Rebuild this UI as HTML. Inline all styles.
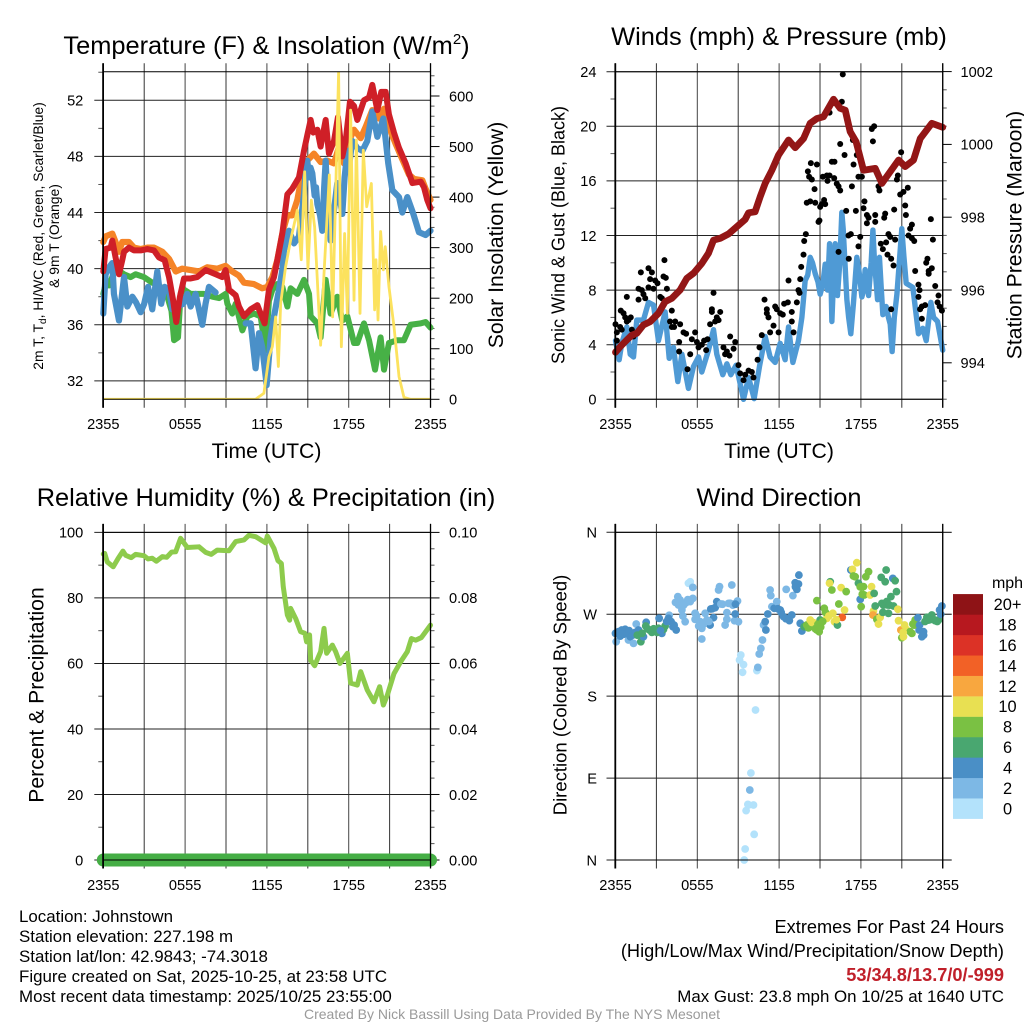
<!DOCTYPE html>
<html lang="en">
<head>
<meta charset="utf-8">
<title>Johnstown Station Meteogram</title>
<style>
html,body{margin:0;padding:0;background:#fff;width:1024px;height:1024px;overflow:hidden}
svg{display:block;font-family:"Liberation Sans",Arial,sans-serif;fill:#000}
text{fill:#000}
.title{font-size:25.4px;text-anchor:middle}
.axis-title{font-size:21.2px;text-anchor:middle}
.foot{font-size:16.9px}
.footr{font-size:18.2px;text-anchor:end}
.footm{font-size:16.9px;text-anchor:end}
</style>
</head>
<body>
<svg id="fig" xmlns="http://www.w3.org/2000/svg" width="1024" height="1024" viewBox="0 0 1024 1024">
<defs>
<clipPath id="clipT"><rect x="103" y="71.7" width="327.5" height="328"/></clipPath>
</defs>
<g id="layer"></g>

<text class="title" x="266.5" y="54">Temperature (F) &amp; Insolation (W/m<tspan dy="-10" font-size="15">2</tspan><tspan dy="10">)</tspan></text>
<text class="title" x="779" y="45">Winds (mph) &amp; Pressure (mb)</text>
<text class="title" x="266" y="506">Relative Humidity (%) &amp; Precipitation (in)</text>
<text class="title" x="779" y="506">Wind Direction</text>

<text class="axis-title" x="266.5" y="458">Time (UTC)</text>
<text class="axis-title" x="779" y="458">Time (UTC)</text>

<text transform="translate(43,236) rotate(-90)" text-anchor="middle" font-size="13.9">2m T, T<tspan dy="3" font-size="10">d</tspan><tspan dy="-3">, HI/WC (Red, Green, Scarlet/Blue)</tspan></text>
<text transform="translate(59,236) rotate(-90)" text-anchor="middle" font-size="13.9">&amp; 9m T (Orange)</text>
<text class="axis-title" transform="translate(503,235) rotate(-90)">Solar Insolation (Yellow)</text>
<text transform="translate(564.5,235) rotate(-90)" text-anchor="middle" font-size="18">Sonic Wind &amp; Gust (Blue, Black)</text>
<text class="axis-title" transform="translate(1021.5,235) rotate(-90)">Station Pressure (Maroon)</text>
<text class="axis-title" transform="translate(43.5,695) rotate(-90)">Percent &amp; Precipitation</text>
<text transform="translate(566.5,695) rotate(-90)" text-anchor="middle" font-size="18.5">Direction (Colored By Speed)</text>

<text x="1007.5" y="588" text-anchor="middle" font-size="16">mph</text>

<text class="foot" x="19" y="922">Location: Johnstown</text>
<text class="foot" x="19" y="942">Station elevation: 227.198 m</text>
<text class="foot" x="19" y="962">Station lat/lon: 42.9843; -74.3018</text>
<text class="foot" x="19" y="982">Figure created on Sat, 2025-10-25, at 23:58 UTC</text>
<text class="foot" x="19" y="1002">Most recent data timestamp: 2025/10/25 23:55:00</text>

<text class="footr" x="1004" y="933">Extremes For Past 24 Hours</text>
<text class="footr" x="1004" y="957">(High/Low/Max Wind/Precipitation/Snow Depth)</text>
<text class="footr" x="1004" y="981" font-weight="bold" style="fill:#c0202a">53/34.8/13.7/0/-999</text>
<text class="footm" x="1004" y="1002">Max Gust: 23.8 mph On 10/25 at 1640 UTC</text>
<text x="512" y="1019" text-anchor="middle" font-size="14" style="fill:#9a9a9a">Created By Nick Bassill Using Data Provided By The NYS Mesonet</text>
</svg>

<script>
// ---- Tick labels ----
const timeTickLabels = ["2355","0555","1155","1755","2355"];
const tempTicks = [32,36,40,44,48,52];
const solarTicks = [0,100,200,300,400,500,600];
const windTicks = [0,4,8,12,16,20,24];
const pressureTicks = [994,996,998,1000,1002];
const rhTicks = [0,20,40,60,80,100];
const precipTicks = ["0.00","0.02","0.04","0.06","0.08","0.10"];
const dirTickLabels = ["N","E","S","W","N"];
const legendLabels = ["0","2","4","6","8","10","12","14","16","18","20+"];
const legendColors = ["#B3E2FB","#7DB8E5","#4A8FC6","#49A770","#7AC143","#E8E052","#F8A73F","#F26126","#DC3226","#B7181F","#8E1316"];

// ---- Temperature panel series (hours since start, deg F) ----
const redHours = [0,.17,.54,.66,.9,1.15,1.39,1.52,1.88,2.25,2.74,3.23,3.72,4.08,4.5,4.82,5.13,5.35,5.62,5.92,6.41,6.89,7.51,8.24,8.73,8.97,9.22,9.71,9.95,10.32,10.81,11.3,11.54,11.83,12.15,12.52,12.76,13.13,13.5,13.86,14.35,14.72,14.96,15.21,15.4,15.7,15.94,16.31,16.55,16.92,17.21,17.53,17.78,18.09,18.39,18.63,19.12,19.49,19.73,20.1,20.39,20.71,20.95,21.32,21.69,22.18,22.67,23.28,23.52,23.76,24];
const redTemp = [39.8,41.4,41.5,42,40.8,39.6,40.6,41.2,41.5,41.3,41.3,41.4,41.3,40.8,40.6,39.4,37.7,36.2,38,39.3,39.3,39.4,39.9,39.6,39.4,39.9,38.5,38.1,37.3,36.6,37.1,37.4,36.8,36.1,38.5,39.4,40.6,42.5,45.3,45.7,46.5,48.4,49.5,50.6,49.7,49.9,48.7,50.6,48.2,49.1,50.8,48,49.1,51.9,51.6,50.6,52,52.2,53.1,51.3,52.6,52.6,51,49.7,48.6,47.5,46.1,46.2,45.8,44.9,44.3];
const orangeHours = [0,.17,.66,.9,1.15,1.39,1.88,2.25,2.74,3.23,3.72,4.33,4.82,5.31,5.79,6.41,7.02,7.63,8.36,8.97,9.46,9.95,10.32,11.05,11.66,12.03,12.4,12.76,13.13,13.5,13.86,14.23,14.6,14.96,15.45,15.94,16.43,16.92,17.29,17.65,18.02,18.39,18.88,19.24,19.73,20.22,20.59,20.95,21.44,21.93,22.42,22.79,23.4,23.64,24];
const orangeTemp = [41.9,42.3,42.5,41.9,41.2,41.9,41.9,41.5,41.4,41.5,41.5,41.2,40.7,39.8,40,39.9,39.8,40.1,40,40.2,39.8,39.5,39,38.9,38.6,38.7,39.4,40.6,42.5,43.8,43.8,44.9,46.8,47.7,48.2,47.6,47.7,47.5,48.7,47.5,49.1,49.9,49.3,50.1,51.3,50.7,51.4,50.1,48.9,47.8,46.7,46.4,46.3,45.7,44.9];
const greenHours = [0,.17,.42,.9,1.52,2,2.37,2.98,3.6,4.2,4.7,5,5.19,5.48,5.67,5.92,6.41,7.39,8,8.49,8.97,9.1,9.46,9.71,10.2,10.56,11.05,11.54,11.9,12.15,12.4,12.76,13.13,13.5,13.74,14.23,14.72,15.09,15.21,15.7,15.94,16.31,16.67,17.16,17.53,17.9,18.39,18.63,19.12,19.49,19.93,20.34,20.59,20.95,21.56,22.05,22.54,23.28,23.64,24];
const greenTemp = [38.2,38.9,38.8,40,39.6,39.4,39.6,39.4,39,38.7,38,37,34.9,35.1,38.2,38.5,38.2,38.2,38,37.9,38.2,37.5,36.8,37.5,35.6,36.6,36.8,36.6,34.2,37.7,38.5,38.9,38.7,37.3,38.6,38.2,39.2,38.2,36.6,36.1,35.1,39.2,36.8,38,36.3,36.6,34.7,34.7,36.1,34.9,32.8,35.1,32.8,34.7,34.9,34.9,36,36.1,36.2,35.8];
const blueHours = [0,.17,.42,.66,.78,1.15,1.52,1.76,2.13,2.4,2.74,3.0,3.28,3.59,3.96,4.25,4.5,4.82,5.06,5.87,6.16,6.41,6.77,7.26,7.5,7.75,8.24,8.3,10.44,10.81,11.17,11.42,11.66,11.98,12.27,12.52,12.89,13.13,13.25,13.62,13.99,14.35,14.72,14.85,14.96,15.1,15.2,15.33,15.5,15.6,15.7,15.9,16.06,16.2,16.31,16.45,16.67,16.9,17.16,17.35,17.53,17.7,17.9,18.05,18.26,18.63,19,19.36,19.73,20.1,20.54,20.9,21.2,21.69,21.93,22.3,22.74,23.15,23.64,24];
const blueTemp = [36.8,39.6,40.1,40.4,38.2,36.3,39.4,37.3,38,37.6,36.9,37.5,38.7,37.1,39.8,37.5,38.7,38.5,37.1,37.5,38.2,37.3,38.2,36,37.5,38.7,38.3,null,36.1,36.1,32.9,35.4,34.4,31.7,35.1,36.6,38.5,39.9,41.3,42.7,41.8,42.3,45.3,47,47.7,46.5,47.2,46.8,45.2,45.8,44.6,43.8,42.7,45.8,47.7,44.5,42,44,46.1,45,43.9,46.5,48.4,47.5,49.1,48.6,48.4,49.1,51.2,49.4,50.7,47.5,45.6,45.1,44,45.1,43.9,42.6,42.4,42.7];
const solarHours = [0,11.17,11.42,11.78,12.15,12.4,12.64,12.84,13.01,13.37,13.74,14.23,14.52,14.77,15.01,15.26,15.5,15.94,16.19,16.58,16.82,17.26,17.46,17.7,17.9,18.14,18.39,18.56,18.83,19.07,19.32,19.66,19.9,20,20.15,20.34,20.54,20.68,20.95,21.32,21.69,22.05,22.54,24];
const solarWatts = [0,0,5,12,84,104,163,65,190,262,315,374,276,450,259,394,341,107,249,444,163,648,104,328,170,572,196,513,170,493,381,427,177,276,157,332,256,302,223,144,45,4,0,0];

// ---- Wind panel series ----
const windHours = [0,.27,.46,.83,1.08,1.32,1.56,2.05,2.42,2.79,3.15,3.64,3.94,4.25,4.57,4.87,5.35,5.72,6.09,6.33,6.82,7.19,7.43,7.87,8.17,8.46,8.85,9.39,9.76,10.17,10.56,10.98,11.34,11.71,12.08,12.44,12.69,13.01,13.42,13.67,13.91,14.1,14.28,14.45,14.65,14.85,15.01,15.2,15.38,15.55,15.7,15.78,15.87,16,16.11,16.2,16.28,16.45,16.6,16.7,16.97,17.1,17.26,17.45,17.7,17.85,18.07,18.2,18.31,18.45,18.56,18.75,18.88,19,19.22,19.36,19.5,19.61,19.85,20.02,20.15,20.29,20.45,20.64,20.85,21,21.15,21.32,21.81,22.22,22.54,22.79,23.13,23.33,23.62,24];
const windMph = [4.3,2.9,4.1,5.3,3.3,3.1,5.8,5.8,7.1,6.9,4.3,6.4,3,3.8,1.3,3.3,.8,2.4,3.1,2,3.6,5.1,3.3,1.8,2.6,1.8,2.5,0,1.6,.05,2.4,4.6,3.1,2.7,4.1,2.9,5.3,2.7,4.3,6,8.7,9.1,10.4,10,9.2,8.6,7.7,8.4,9.9,8,11.4,10,5.7,9,11.4,10.6,7.6,10,13.7,12.5,7.3,6,4.8,7,10.4,9.5,7.5,8,9.5,8.8,7.6,10,12.4,10,7.3,10.4,8,6.2,6.8,6,5.5,3.5,6,7.7,10.5,12.5,10.5,8.5,8.2,4.8,5.2,4.3,7.1,6,5.7,3.6];
const gustHours = [0,.1,.1,.34,.46,.39,.59,.71,.95,.83,1.12,.83,1.2,1.32,
1.69,1.69,1.86,1.93,2.05,2.18,2.42,2.67,2.54,2.42,2.79,2.91,3.08,3.28,3.4,3.52,3.69,3.59,3.77,
4.13,4,4.13,4.38,4.3,4.74,4.99,5.18,4.67,4.67,5.48,5.28,5.6,5.84,5.97,6.09,6.33,6.5,6.75,6.65,6.94,7.07,7.07,7.19,7.31,7.43,7.56,7.68,
7.92,8.04,8.17,8.36,8.41,8.78,8.66,9.02,9.14,9.39,9.51,9.76,10,10.12,10.42,10.56,10.73,10.93,11.1,11.1,11.22,11.71,11.83,11.59,11.34,11.96,12.08,12.27,12.37,12.69,12.64,12.93,13.06,12.93,13.3,13.55,13.42,13.5,13.62,13.79,13.84,13.96,
14.03,14.28,14.11,14.2,14.4,14.6,14.33,14.77,14.65,15.01,15.13,15.3,15.38,14.89,14.96,15.21,15.5,15.7,15.55,15.87,16.06,16.04,16.23,16.36,16.48,
16.6,16.67,15.7,16.48,16.8,17.41,17.7,17.46,17.82,18.07,17.34,16.92,17.63,17.09,17.26,17.82,17.95,17.11,16.36,18.26,18.19,18.44,18.56,18.44,19.05,19.05,18.8,18.97,18.88,19.29,19.36,19.78,19.71,19.46,19.61,19.85,20.02,20.15,19.95,20.22,20.39,20.51,20.44,20.22,
20.95,20.71,20.64,20.88,21.12,21.44,21.25,21.3,21.74,21.61,21.49,21.74,21.91,21.98,22.22,22.3,22.22,22.47,22.71,22.34,22.47,23.13,23.28,22.88,22.79,22.97,23.2,22.97,23.45,23.69,23.62,23.77,23.94];
const gustMph = [5.5,4.9,4.3,5.3,5.1,6.5,6.3,6,5.8,5.7,6,7.5,5.1,4.6,
8.1,7.3,9.3,8,7.7,7.4,9.6,9.3,8.8,8.2,8.1,8.7,8.5,7.5,7.4,9,8.9,10.2,8.1,
6.5,5.7,5.3,5.7,5.3,5.5,4.9,4.8,4.2,3.5,3.3,2.2,4.4,4.9,4.2,3.8,4,4.3,4.4,3.6,5.5,6.6,6.4,7.8,5.7,6,5.8,6.4,
3.8,3.3,3.5,3.2,4.6,4.2,3.7,2.5,1.9,1.4,1.8,2.1,2,1.6,2.9,3.8,4.7,7.3,6.6,6.3,6,6.8,6.6,5.4,4.9,4.9,6.3,6.2,7,8.7,7.1,5.7,4.9,6.4,7.1,8.8,8,7.8,9.7,10.6,11.6,12.1,
14.4,14.5,16.7,16.3,16.1,15.4,17.3,17.2,14.4,14.1,14.3,14.6,14.3,13,13.1,16.3,16.4,16.4,16,17.4,17.4,16.2,15.8,15.6,15.3,
21.8,23.8,21,18.7,17.9,19,17.9,17.2,16.3,16.3,15.6,13.8,13.8,12,12.1,11.2,11.9,10.3,10.8,14.5,14,13.5,13.3,12.9,13.5,13,19.8,20,18.9,15.6,15.3,13.6,13.3,11.4,11,11.5,12.1,11.9,10.6,10.3,9.8,11.7,13.9,6.6,
18.1,16.4,16.1,15,15.2,15.5,14.2,13.5,12.8,12.5,12,11.8,11.6,9.4,8.4,8,7.5,6.8,6.9,6.6,5.9,13.2,11.7,10.3,10,9.4,9.6,9.2,8.3,7.6,7.1,6.8,6.5];
const pressureHours = [0,.34,.95,1.2,1.56,2.05,2.54,3.15,3.64,4.13,4.74,5.23,5.72,6.33,6.82,7.19,7.68,8.29,8.9,9.51,9.76,10.24,10.61,10.98,11.47,11.96,12.69,13.18,13.79,14.28,14.77,15.26,15.99,16.48,16.85,17.21,17.65,18.19,19.05,19.54,20.15,20.76,21.25,21.86,22.35,23.2,24];
const pressureMb = [994.29,994.44,994.67,994.76,994.81,995.04,995.13,995.36,995.68,995.77,996,996.32,996.46,996.73,997.01,997.37,997.42,997.54,997.74,997.94,998.12,998.15,998.56,998.93,999.29,999.71,1000.12,999.91,1000.16,1000.58,1000.71,1000.76,1001.24,1000.99,1000.94,1000.35,1000.07,999.29,999.34,998.93,999.25,999.57,999.39,999.57,1000.16,1000.58,1000.47];

// ---- Humidity panel series ----
const rhHours = [0,.1,.29,.73,1.08,1.44,1.64,2.05,2.37,2.98,3.28,3.59,3.89,4.33,4.65,5.01,5.31,5.67,6.16,7.02,7.51,7.92,8.36,9.22,9.71,10.32,10.68,11.17,11.91,12.03,12.52,12.81,13.06,13.2,13.5,13.67,13.74,14.11,14.47,14.79,14.91,15.13,15.21,15.5,15.94,16.19,16.38,16.8,17.04,17.36,17.9,18.14,18.63,18.88,19.36,19.85,20.27,20.54,20.83,21.32,21.81,22.3,22.6,22.91,23.33,24];
const rhPercent = [93.4,93.6,91,89.5,92,94.3,93,92.3,93.3,92.9,91.9,92.1,91.2,92.6,92.4,94,94.1,98.2,95.4,95.6,93.9,93.3,94.6,94.4,97.2,97.7,99.1,98.7,96.8,98.9,95.1,91.4,90.5,83.4,74.8,73.2,76.8,73.7,69.7,69.2,66.6,68.7,61,59.3,63.6,70.7,63.1,65.6,63.6,60,63.1,54,53.4,57.5,51.9,48.3,52.9,47.3,50.3,56.9,60.5,63.6,67.6,67.1,67.9,71.7];
const precipHours = [0,24];
const precipInches = [0,0];

// ---- Wind direction panel series (hours, degrees, mph) ----
const dirHours = [0,.05,.22,.46,.71,.95,1.08,1.32,1.52,1.69,1.86,1.81,2.05,2.25,2.22,2.49,2.67,2.91,3.15,3.2,3.4,3.64,3.52,3.94,3.89,4.08,4.21,4.45,4.57,4.74,4.62,4.87,4.94,5.11,5.18,5.35,5.48,5.67,5.67,5.48,5.84,5.84,6.21,6.33,6.33,6.58,6.7,6.94,7.19,6.99,7.31,7.43,7.63,7.56,7.73,8.04,8.17,8.17,8.29,8.53,8.66,8.73,8.78,8.95,9.02,
9.19,9.1,9.39,9.32,9.44,9.51,9.58,9.71,9.76,9.85,9.93,10.12,10.17,10.27,10.37,10.44,10.54,10.66,10.78,10.86,11.03,10.98,11.17,11.34,11.39,11.47,11.64,11.83,12.08,12.32,12.52,12.69,12.93,13.01,13.18,13.3,13.42,13.45,13.55,13.67,
13.84,14.03,14.28,14.52,14.77,14.77,14.94,15.01,15.31,15.5,15.75,15.7,15.87,15.94,16.06,16.28,16.38,16.55,16.63,16.8,16.92,17.26,17.38,17.58,17.7,17.82,17.95,18.02,18.19,18.24,18.36,18.56,18.68,18.78,18.97,18.92,18.88,19.05,19.17,19.29,19.41,19.54,19.49,19.61,19.78,19.85,19.95,20.02,20.2,20.34,20.51,20.39,20.61,20.71,20.76,
21,21.12,20.93,21.2,21.32,21.61,21.74,21.81,21.98,22.18,22.27,22.47,22.59,22.84,22.96,23.2,23.45,23.69,23.77,23.94,
.35,.6,.85,1,1.25,1.45,1.6,1.95,2.35,2.8,3.05,3.3,3.75,4.3,5,4.4,5.3,5.95,6.1,6.45,6.85,7.1,7.85,8.4,8.6,8.8,
11.9,12.15,12.5,12.75,13.2,14.15,14.4,14.65,14.85,15.05,15.2,15.4,15.65,16.2,17.45,17.95,18.1,19.65,19.9,20.1,21.1,21.9,22.6,22.3,22.7,23.05,23.35,23.6,23.85];
const dirDegrees = [249,239.8,250.8,252.7,253.4,241.7,245.3,238,259.2,252.7,239.8,247.2,245.3,261.1,257,252.7,250.1,252.7,254.5,265.5,249,257,253.4,268.8,265.5,261.8,256.3,252.7,289.3,285.6,280.1,274.6,268,261.8,282.7,304,305.7,299.5,287.4,283.8,271,264.4,261.8,254.5,242.8,271,263.6,258.1,266.2,275.7,277.2,283.8,300.3,296.6,281.2,258.1,264.4,271.7,281.9,302.1,281.2,262.9,270.2,284.5,261.8,
225.2,219.7,214.6,206.2,0,12.1,54.2,61.1,60.4,76.9,95.6,60.4,28.2,164.8,208,211.6,226.3,232.5,241.7,258.1,252.7,261.8,270.2,296.6,290.4,278.3,276.5,283.8,274.6,267.3,297.3,265.5,269.1,290.4,304.6,297.3,303.2,313,260,251.6,
256.3,258.1,263.6,260.7,284.9,252.7,250.8,263.6,276.5,265.5,305.7,304,296.6,271,261.8,258.1,281.2,299.2,266.6,274.6,294.8,318.6,319.3,311.2,326.6,304,286.3,278.3,300.3,291.1,311.2,316.7,291.1,300.3,292.9,273.5,269.1,279,264.4,259.2,266.6,281.9,310.5,272,305.7,318.6,280.1,271,289.3,309.4,306.8,279,294.8,275.4,262.9,
244.2,245.3,252.7,258.1,253.4,250.8,249,259.2,263.6,266.2,252.7,245.3,250.8,266.6,263.6,269.1,262.9,263.6,274.6,279,
246,248,249,252,247,250,247,249,254,254,250,252,262,258,280,283,286,268,257,259,262,276,281,282,280,281,
276,272,265,263,300,255,261,254,259,256,262,272,268,264,312,300,292,280,284,280,250,258,247,258,262,264,264,262,270];
const dirSpeeds = [4,2,4,4,4,2,4,2,2,4,6,6,4,4,6,6,6,6,6,4,4,6,6,2,4,4,4,4,2,2,2,2,2,2,2,0,0,2,2,2,2,2,2,2,2,2,2,4,4,4,4,4,2,2,2,2,2,2,2,2,2,2,4,2,2,
0,0,0,0,0,0,0,0,0,2,0,0,0,0,0,2,2,2,2,2,4,4,4,2,2,2,4,2,4,4,2,4,4,2,4,4,4,4,4,4,
6,8,10,10,8,8,8,6,8,10,6,10,8,10,10,6,8,10,14,10,8,4,10,8,10,6,4,8,8,8,8,8,10,10,6,10,12,6,8,10,10,6,6,6,6,6,6,6,6,4,6,6,6,10,10,
8,10,12,10,10,8,8,8,8,4,4,4,4,6,6,6,6,6,4,4,
4,4,4,4,4,4,6,6,6,6,6,4,4,4,2,2,2,2,2,2,2,4,2,2,2,4,
4,4,4,4,4,8,10,8,8,8,8,8,10,10,8,8,8,6,6,6,10,8,4,4,6,6,6,6,4];

// ---- Layout constants and axis functions ----
const NS = 'http://www.w3.org/2000/svg';
const layer = document.getElementById('layer');
const panelLeftA = 103.3, panelLeftB = 615.5, hourWidth = 13.634;
const topRow = {top:71.7, bottom:399.3}, lowRow = {top:532.4, bottom:860};
const xA = h => panelLeftA + h * hourWidth;
const xB = h => panelLeftB + h * hourWidth;
const yTemp = v => 380.9 - (v - 32) * 14.03;
const ySolar = w => 399.3 - w * 0.5055;
const yWind = v => 399.3 - v * 13.65;
const yPress = p => 144.4 - (p - 1000) * 36.4;
const yRH = v => 860 - v * 3.276;
const yPrecip = p => 860 - p * 3276;
const yDir = d => 860 - d * 0.9103;

function mk(tag, parent, attrs){
  const el = document.createElementNS(NS, tag);
  for (const k in attrs) el.setAttribute(k, attrs[k]);
  parent.appendChild(el);
  return el;
}
function seg(parent, x1, y1, x2, y2, w, c){
  return mk('line', parent, {x1, y1, x2, y2, stroke:c || '#000', 'stroke-width':w || 1});
}
function lbl(parent, x, y, str, anchor, size){
  const t = mk('text', parent, {x, y, 'text-anchor':anchor, 'font-size':size || 14.6});
  t.textContent = str;
  return t;
}
function seriesPath(xs, ys, xf, yf, color, width, parent, clip){
  let d = '', pen = false;
  for (let i = 0; i < xs.length; i++){
    if (ys[i] === null){ pen = false; continue; }
    d += (pen ? 'L' : 'M') + xf(xs[i]).toFixed(2) + ' ' + yf(ys[i]).toFixed(2);
    pen = true;
  }
  const p = mk('path', parent, {d, fill:'none', stroke:color, 'stroke-width':width, 'stroke-linejoin':'round', 'stroke-linecap':'round'});
  if (clip) p.setAttribute('clip-path', 'url(#' + clip + ')');
  return p;
}

function drawFrame(g, xf, row, hasGridTicks, tickY){
  const x0 = xf(0), x1 = xf(24);
  // vertical gridlines every three hours, with outward tick stubs
  for (let i = 0; i <= 8; i++){
    const x = xf(i * 3);
    const v = seg(g, x, row.top - 8.5, x, row.bottom + 8.5, 1, i % 2 ? '#333' : '#444');
    
    
  }
  // horizontal gridlines for the primary axis
  hasGridTicks.forEach(y => {
    const h = seg(g, x0 - 9, y, x1, y, 1, '#222');
    
    
  });
  // time labels
  timeTickLabels.forEach((s, i) => {
    const t = lbl(g, xf(i * 6), tickY, s, 'middle');
    
    
  });
}
function drawBorder(g, xf, row){
  const x0 = xf(0), x1 = xf(24);
  const l = seg(g, x0 - 0.2, row.top - 8.5, x0 - 0.2, row.bottom + 8.5, 1.8);
  
  
  const r = seg(g, x1, row.top - 8.5, x1, row.bottom + 8.5, 1.3);
  
  
  const t = seg(g, x0, row.top, x1, row.top, 1);
  
  
  const b = seg(g, x0, row.bottom, x1, row.bottom, 1);
  
  
}
function minorTick(g, x, y, dir, len){
  const m = seg(g, x, y, x + dir * len, y, 1, '#555');
  
  
}
function majorTick(g, x, y, dir){
  const m = seg(g, x, y, x + dir * 9, y, 1);
  
  
}

// ---- Panel 1: temperature and insolation ----
(function(){
  const g = mk('g', layer, {});
  
  
  drawFrame(g, xA, topRow, tempTicks.map(yTemp), 429);
  for (let v = 34; v <= 54; v += 4) minorTick(g, xA(0), yTemp(v), -1, 5);
  tempTicks.forEach(v => {
    const t = lbl(g, 83.3, yTemp(v) + 5.3, String(v), 'end');
    
    
  });
  for (let w = 0; w <= 640; w += 20){
    if (w % 100 === 0) majorTick(g, xA(24), ySolar(w), 1);
    else minorTick(g, xA(24), ySolar(w), 1, 4);
  }
  solarTicks.forEach(w => {
    const t = lbl(g, 449, ySolar(w) + 5.3, String(w), 'start');
    
    
  });
  const green = seriesPath(greenHours, greenTemp, xA, yTemp, '#47B146', 6, g);
  
  
  const orange = seriesPath(orangeHours, orangeTemp, xA, yTemp, '#F58427', 6.2, g);
  
  
  const blue = seriesPath(blueHours, blueTemp, xA, yTemp, '#4A90C8', 6.2, g);
  
  
  const red = seriesPath(redHours, redTemp, xA, yTemp, '#CF1F27', 6, g);
  
  
  const solar = seriesPath(solarHours, solarWatts, xA, ySolar, '#FCE25E', 2.8, g, 'clipT');
  
  
  drawBorder(g, xA, topRow);
})();

// ---- Panel 2: wind and pressure ----
(function(){
  const g = mk('g', layer, {});
  
  
  drawFrame(g, xB, topRow, windTicks.map(yWind), 429);
  for (let v = 2; v <= 22; v += 4) minorTick(g, xB(0), yWind(v), -1, 5);
  windTicks.forEach(v => {
    const t = lbl(g, 596.5, yWind(v) + 5.3, String(v), 'end');
    
    
  });
  for (let p = 993; p <= 1002; p += 0.5){
    if (p % 2 === 0) majorTick(g, xB(24), yPress(p), 1);
    else minorTick(g, xB(24), yPress(p), 1, 4);
  }
  pressureTicks.forEach(p => {
    const t = lbl(g, 960.5, yPress(p) + 5.3, String(p), 'start');
    
    
  });
  const wind = seriesPath(windHours, windMph, xB, yWind, '#4F9AD5', 5.4, g);
  
  
  gustHours.forEach((h, i) => {
    const c = mk('circle', g, {cx:xB(h), cy:yWind(gustMph[i]), r:3, fill:'#000'});
    
    
  });
  const press = seriesPath(pressureHours, pressureMb, xB, yPress, '#931616', 6.8, g);
  
  
  drawBorder(g, xB, topRow);
})();

// ---- Panel 3: humidity and precipitation ----
(function(){
  const g = mk('g', layer, {});
  
  
  drawFrame(g, xA, lowRow, rhTicks.map(yRH), 890);
  for (let v = 10; v <= 90; v += 20) minorTick(g, xA(0), yRH(v), -1, 5);
  rhTicks.forEach(v => {
    const t = lbl(g, 83.3, yRH(v) + 5.3, String(v), 'end');
    
    
  });
  for (let v = 0; v <= 100; v += 5){
    if (v % 20 === 0) majorTick(g, xA(24), yRH(v), 1);
    else minorTick(g, xA(24), yRH(v), 1, 4);
  }
  precipTicks.forEach(s => {
    const t = lbl(g, 449, yPrecip(parseFloat(s)) + 5.3, s, 'start');
    
    
  });
  const precip = seriesPath(precipHours, precipInches, xA, yPrecip, '#45AE45', 13, g);
  
  
  const rh = seriesPath(rhHours, rhPercent, xA, yRH, '#8DCB4C', 5, g);
  
  
  drawBorder(g, xA, lowRow);
})();

// ---- Panel 4: wind direction ----
(function(){
  const g = mk('g', layer, {});
  
  
  drawFrame(g, xB, lowRow, dirTickLabels.map((s, i) => yDir(i * 90)), 890);
  dirTickLabels.forEach((s, i) => {
    const t = lbl(g, 597, yDir(i * 90) + 5.3, s, 'end');
    
    
    majorTick(g, xB(24), yDir(i * 90), 1);
  });
  dirHours.forEach((h, i) => {
    const bin = Math.min(legendColors.length - 1, Math.floor(dirSpeeds[i] / 2));
    const c = mk('circle', g, {cx:xB(h), cy:yDir(dirDegrees[i]), r:3.9, fill:legendColors[bin]});
    
    
  });
  drawBorder(g, xB, lowRow);

  // colour legend
  const boxH = 20.42, legendBottom = 818.7;
  legendColors.forEach((col, i) => {
    const y = legendBottom - (i + 1) * boxH;
    const r = mk('rect', g, {x:953, y, width:30, height:boxH + 0.2, fill:col});
    
    
    const t = lbl(g, 1007.5, y + boxH / 2 + 5.8, legendLabels[i], 'middle', 16.4);
    
    
  });
})();
</script>
</body>
</html>
